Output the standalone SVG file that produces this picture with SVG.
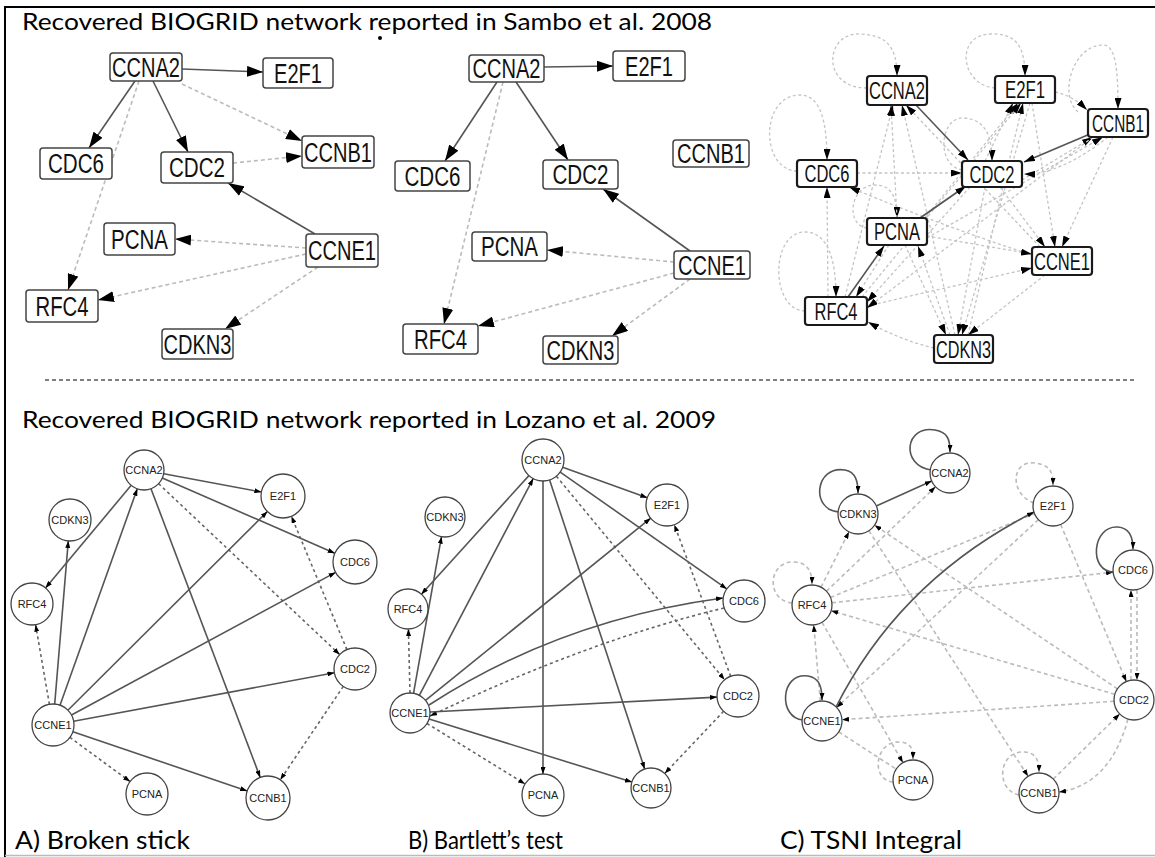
<svg xmlns="http://www.w3.org/2000/svg" width="1155" height="857" viewBox="0 0 1155 857">
<style>
.ns{fill:#fff;stroke:#444;stroke-width:1.5}
.nb{fill:#fff;stroke:#1a1a1a;stroke-width:2.2}
.nc{fill:#fff;stroke:#444;stroke-width:1.3}
.s{fill:none;stroke:#555;stroke-width:1.6}
.d{fill:none;stroke:#bbb;stroke-width:1.6;stroke-dasharray:4 3}
.dr{fill:none;stroke:#c4c4c4;stroke-width:1.3;stroke-dasharray:3 2.5}
.dd{fill:none;stroke:#666;stroke-width:1.6;stroke-dasharray:3 3}
.lt{font-family:"Liberation Sans",Arial,sans-serif;font-size:27px;text-anchor:middle;fill:#111}
.lr{font-family:"Liberation Sans",Arial,sans-serif;font-size:24px;text-anchor:middle;fill:#111}
.lc{font-family:"Liberation Sans",Arial,sans-serif;font-size:11px;text-anchor:middle;fill:#222}
.title{font-family:Lato,"Open Sans",sans-serif;font-size:23px;fill:#000}
.cap{font-family:Lato,"Open Sans",sans-serif;font-size:25px;fill:#000}
</style>
<defs>
<marker id="ah" viewBox="0 0 16 11" markerWidth="16" markerHeight="11" refX="16" refY="5.5" orient="auto" markerUnits="userSpaceOnUse"><path d="M0,0 L16,5.5 L0,11 z" fill="#000"/></marker>
<marker id="ah2" viewBox="0 0 11 7" markerWidth="11" markerHeight="7" refX="11" refY="3.5" orient="auto" markerUnits="userSpaceOnUse"><path d="M0,0 L11,3.5 L0,7 z" fill="#000"/></marker>
<marker id="as" viewBox="0 0 7 5" markerWidth="7" markerHeight="5" refX="7" refY="2.5" orient="auto" markerUnits="userSpaceOnUse"><path d="M0,0 L7,2.5 L0,5 z" fill="#000"/></marker>
</defs>
<rect x="0" y="0" width="1155" height="857" fill="#fff"/>
<g id="frame" fill="none">
<path d="M5,857 L5,7 L1155,7" stroke="#000" stroke-width="2"/>
<line x1="5" y1="855.5" x2="1155" y2="855.5" stroke="#bbb" stroke-width="1.5"/>
<line x1="45" y1="380" x2="1135" y2="380" stroke="#555" stroke-width="1.3" stroke-dasharray="4 3"/>
<circle cx="380" cy="38" r="2" fill="#000"/>
</g>
<g id="titles">
<text class="title" x="22" y="30" textLength="690" lengthAdjust="spacingAndGlyphs">Recovered BIOGRID network reported in Sambo et al. 2008</text>
<text class="title" x="22" y="428" textLength="694" lengthAdjust="spacingAndGlyphs">Recovered BIOGRID network reported in Lozano et al. 2009</text>
<text class="cap" x="15" y="849" textLength="175" lengthAdjust="spacingAndGlyphs">A) Broken stick</text>
<text class="cap" x="408" y="849" textLength="155" lengthAdjust="spacingAndGlyphs">B) Bartlett’s test</text>
<text class="cap" x="780" y="849" textLength="182" lengthAdjust="spacingAndGlyphs">C) TSNI Integral</text>
</g>

<g id="connectors">
<!-- top-left -->
<path class="s" d="M182,69 L263,72" marker-end="url(#ah)"/>
<path class="s" d="M135,81 L89,148" marker-end="url(#ah)"/>
<path class="s" d="M153,81 L188,152" marker-end="url(#ah)"/>
<path class="d" d="M182,84 L302,141" marker-end="url(#ah)"/>
<path class="d" d="M233,163 L302,156" marker-end="url(#ah)"/>
<path class="d" d="M139,81 L68,290" marker-end="url(#ah)"/>
<path class="s" d="M315,234 L228,183" marker-end="url(#ah)"/>
<path class="d" d="M306,248 L175,239" marker-end="url(#ah)"/>
<path class="d" d="M306,254 L98,300" marker-end="url(#ah)"/>
<path class="d" d="M318,267 L225,329" marker-end="url(#ah)"/>
<!-- top-middle -->
<path class="s" d="M544,67 L613,66" marker-end="url(#ah)"/>
<path class="s" d="M497,82 L445,161" marker-end="url(#ah)"/>
<path class="s" d="M516,82 L568,160" marker-end="url(#ah)"/>
<path class="d" d="M503,82 L444,324" marker-end="url(#ah)"/>
<path class="s" d="M690,251 L603,189" marker-end="url(#ah)"/>
<path class="d" d="M674,262 L547,250" marker-end="url(#ah)"/>
<path class="d" d="M674,273 L478,326" marker-end="url(#ah)"/>
<path class="d" d="M690,279 L612,336" marker-end="url(#ah)"/>
<!-- top-right dashed -->
<path class="dr" d="M867,88 C820,88 825,32 860,34 C885,35 897,45 897,76" marker-end="url(#ah2)"/>
<path class="dr" d="M995,88 C960,85 955,35 990,34 C1015,33 1025,45 1025,76" marker-end="url(#ah2)"/>
<path class="dr" d="M1078,112 C1058,95 1073,45 1103,45 C1116,45 1118,70 1118,109" marker-end="url(#ah2)"/>
<path class="dr" d="M797,171 C760,170 760,95 800,95 C820,95 827,120 827,160" marker-end="url(#ah2)"/>
<path class="dr" d="M805,311 C770,310 770,232 805,232 C828,232 836,260 836,297" marker-end="url(#ah2)"/>
<path class="dr" d="M867,228 C845,225 850,185 875,185 C890,185 897,195 897,218" marker-end="url(#ah2)"/>
<path class="dr" d="M962,170 C935,165 940,115 965,118 C985,120 992,135 992,161" marker-end="url(#ah2)"/>
<path class="dr" d="M857,173 L962,173" marker-end="url(#ah2)"/>
<path class="dr" d="M828,297 L827,187" marker-end="url(#ah2)"/>
<path class="dr" d="M1032,255 Q940,225 849,187" marker-end="url(#ah2)"/>
<path class="dr" d="M897,218 L891,105" marker-end="url(#ah2)"/>
<path class="dr" d="M845,297 L893,105" marker-end="url(#ah2)"/>
<path class="dr" d="M955,335 L902,105" marker-end="url(#ah2)"/>
<path class="dr" d="M1040,247 L906,105" marker-end="url(#ah2)"/>
<path class="dr" d="M985,161 L1013,103" marker-end="url(#ah2)"/>
<path class="dr" d="M925,218 L1018,103" marker-end="url(#ah2)"/>
<path class="dr" d="M862,297 L1021,103" marker-end="url(#ah2)"/>
<path class="dr" d="M968,335 L1023,103" marker-end="url(#ah2)"/>
<path class="dr" d="M1055,92 C1068,95 1077,100 1087,110" marker-end="url(#ah2)"/>
<path class="dr" d="M1022,180 L1093,137" marker-end="url(#ah2)"/>
<path class="dr" d="M927,238 L1103,137" marker-end="url(#ah2)"/>
<path class="dr" d="M1108,137 Q1060,175 1024,174" marker-end="url(#ah2)"/>
<path class="dr" d="M1000,187 L1045,247" marker-end="url(#ah2)"/>
<path class="dr" d="M1032,103 L1055,247" marker-end="url(#ah2)"/>
<path class="dr" d="M1113,137 L1062,247" marker-end="url(#ah2)"/>
<path class="dr" d="M927,236 L1032,254" marker-end="url(#ah2)"/>
<path class="dr" d="M867,306 L1032,268" marker-end="url(#ah2)"/>
<path class="dr" d="M905,245 L946,335" marker-end="url(#ah2)"/>
<path class="dr" d="M985,187 L958,335" marker-end="url(#ah2)"/>
<path class="dr" d="M1030,103 L962,335" marker-end="url(#ah2)"/>
<path class="dr" d="M1045,275 L968,335" marker-end="url(#ah2)"/>
<path class="dr" d="M970,187 L867,302" marker-end="url(#ah2)"/>
<path class="dr" d="M1093,137 L867,308" marker-end="url(#ah2)"/>
<path class="dr" d="M934,348 Q900,340 868,322" marker-end="url(#ah2)"/>
<path class="dr" d="M950,335 L918,246" marker-end="url(#ah2)"/>
<path class="dr" d="M889,245 L856,297" marker-end="url(#ah2)"/>
<!-- top-right solid -->
<path class="s" d="M916,105 L968,160" marker-end="url(#ah2)"/>
<path class="s" d="M1090,134 L1024,162" marker-end="url(#ah2)"/>
<path class="s" d="M920,218 L966,186" marker-end="url(#ah2)"/>
<path class="s" d="M848,297 L884,246" marker-end="url(#ah2)"/>
<!-- bottom-left -->
<path class="s" d="M163.7,473.7 L261.4,492" marker-end="url(#as)"/>
<path class="s" d="M162.3,478 L334.8,553.2" marker-end="url(#as)"/>
<path class="dd" d="M158.6,483.7 L339.7,654.6" marker-end="url(#as)"/>
<path class="s" d="M151,488.7 L260.2,777.4" marker-end="url(#as)"/>
<path class="s" d="M131.2,485.3 L45.5,587.9" marker-end="url(#as)"/>
<path class="s" d="M60,705.2 L137.3,488.8" marker-end="url(#as)"/>
<path class="s" d="M54.7,704.1 L68.3,540.9" marker-end="url(#as)"/>
<path class="dd" d="M49.4,704.3 L35.6,624.7" marker-end="url(#as)"/>
<path class="s" d="M67.9,710.2 L267.4,511.5" marker-end="url(#as)"/>
<path class="s" d="M71.5,715 L335.6,572.4" marker-end="url(#as)"/>
<path class="s" d="M73.6,721.2 L334.4,672.8" marker-end="url(#as)"/>
<path class="s" d="M72.9,731.8 L247.2,790.9" marker-end="url(#as)"/>
<path class="dd" d="M69.9,737.4 L130.1,781.6" marker-end="url(#as)"/>
<path class="dd" d="M346.9,649.6 L291.4,516.3" marker-end="url(#as)"/>
<path class="dd" d="M343.3,686.4 L280.3,779.8" marker-end="url(#as)"/>
<!-- bottom-middle -->
<path class="s" d="M562.7,467.2 L647.3,497.8" marker-end="url(#as)"/>
<path class="s" d="M560.2,472.1 L726.8,588.9" marker-end="url(#as)"/>
<path class="dd" d="M556.4,476.2 L724.6,679.8" marker-end="url(#as)"/>
<path class="s" d="M549.6,480 L644.7,769" marker-end="url(#as)"/>
<path class="s" d="M543,481 L543,774" marker-end="url(#as)"/>
<path class="s" d="M528.9,475.6 L421.4,594.2" marker-end="url(#as)"/>
<path class="s" d="M419.3,695.3 L533.2,478.6" marker-end="url(#as)"/>
<path class="s" d="M413.5,693.3 L441.5,536.7" marker-end="url(#as)"/>
<path class="dd" d="M410,693 L408.4,629" marker-end="url(#as)"/>
<path class="s" d="M425.5,700.4 L650.7,518.2" marker-end="url(#as)"/>
<path class="s" d="M429,705 Q560,620 723,598" marker-end="url(#as)"/>
<path class="dd" d="M724,608 Q590,640 430,716" marker-end="url(#as)"/>
<path class="s" d="M430,712 L717,697.1" marker-end="url(#as)"/>
<path class="s" d="M429.1,718.9 L631.9,782.1" marker-end="url(#as)"/>
<path class="dd" d="M427,723.5 L525.1,784" marker-end="url(#as)"/>
<path class="dd" d="M730.7,676.3 L674.3,524.7" marker-end="url(#as)"/>
<path class="dd" d="M723.6,711.3 L664.7,773.5" marker-end="url(#as)"/>
<!-- bottom-right dashed -->
<path class="d" d="M1034,503 C1010,495 1010,460 1035,463 C1050,465 1053,472 1053,485" marker-end="url(#as)"/>
<path class="d" d="M792,603 C765,600 768,560 795,562 C808,563 812,572 812,584" marker-end="url(#as)"/>
<path class="d" d="M893,782 C870,780 875,740 900,742 C912,743 913,750 913,759" marker-end="url(#as)"/>
<path class="d" d="M1019,795 C995,790 998,750 1025,752 C1037,753 1039,762 1039,772" marker-end="url(#as)"/>
<path class="d" d="M821,587.2 L849,531.8" marker-end="url(#as)"/>
<path class="d" d="M826.5,591.2 L935.5,486.8" marker-end="url(#as)"/>
<path class="d" d="M830.5,597.4 L1034.5,513.6"/>
<path class="d" d="M831.9,602.8 L1113.1,572.2" marker-end="url(#as)"/>
<path class="d" d="M1114.8,694.3 L831.2,610.7" marker-end="url(#as)"/>
<path class="d" d="M1114,701.3 L842,719.7" marker-end="url(#as)"/>
<path class="d" d="M1038.4,519.6 L836.6,707.4" marker-end="url(#as)"/>
<path class="d" d="M820.3,701.1 L813.7,624.9" marker-end="url(#as)"/>
<path class="d" d="M1060.7,524.5 L1126.3,681.5" marker-end="url(#as)"/>
<path class="d" d="M1131,680 L1131,590" marker-end="url(#as)"/>
<path class="d" d="M1137,590 L1137,680" marker-end="url(#as)"/>
<path class="d" d="M1117.4,688.8 L874.6,525.2" marker-end="url(#as)"/>
<path class="d" d="M868.9,530.8 L1028.1,776.2" marker-end="url(#as)"/>
<path class="d" d="M822,622.3 L903,762.7" marker-end="url(#as)"/>
<path class="d" d="M838.8,731.9 L896.2,769.1"/>
<path class="d" d="M1053.3,779 L1119.7,714" marker-end="url(#as)"/>
<path class="d" d="M1128,719 Q1110,785 1059,792" marker-end="url(#as)"/>
<!-- bottom-right solid -->
<path class="s" d="M931,470 C900,465 905,425 935,430 C948,432 950,440 950,452" marker-end="url(#as)"/>
<path class="s" d="M839,512 C810,510 815,465 845,470 C856,472 858,482 858,493" marker-end="url(#as)"/>
<path class="s" d="M1114,572 C1088,572 1092,525 1118,527 C1130,528 1133,538 1133,549" marker-end="url(#as)"/>
<path class="s" d="M803,720 C778,718 780,672 808,676 C820,678 822,688 822,700" marker-end="url(#as)"/>
<path class="s" d="M876.3,505.9 L931.7,481.1" marker-end="url(#as)"/>
<path class="s" d="M836,707 Q900,580 1034,512" marker-end="url(#as)"/>
</g>

<!-- top-left nodes -->
<g id="tl-CCNA2"><rect class="ns" x="110" y="53" width="72" height="28" rx="3"/><text class="lt" x="146" y="76.7" textLength="68" lengthAdjust="spacingAndGlyphs">CCNA2</text></g>
<g id="tl-E2F1"><rect class="ns" x="263" y="58" width="70" height="30" rx="3"/><text class="lt" x="298" y="82.7" textLength="48" lengthAdjust="spacingAndGlyphs">E2F1</text></g>
<g id="tl-CDC6"><rect class="ns" x="40" y="148" width="72" height="31" rx="3"/><text class="lt" x="76" y="173.2" textLength="56" lengthAdjust="spacingAndGlyphs">CDC6</text></g>
<g id="tl-CDC2"><rect class="ns" x="161" y="152" width="72" height="31" rx="3"/><text class="lt" x="197" y="177.2" textLength="56" lengthAdjust="spacingAndGlyphs">CDC2</text></g>
<g id="tl-CCNB1"><rect class="ns" x="302" y="136" width="72" height="32" rx="3"/><text class="lt" x="338" y="161.7" textLength="68" lengthAdjust="spacingAndGlyphs">CCNB1</text></g>
<g id="tl-PCNA"><rect class="ns" x="104" y="223" width="71" height="32" rx="3"/><text class="lt" x="139.5" y="248.7" textLength="57" lengthAdjust="spacingAndGlyphs">PCNA</text></g>
<g id="tl-CCNE1"><rect class="ns" x="306" y="234" width="72" height="33" rx="3"/><text class="lt" x="342" y="260.2" textLength="68" lengthAdjust="spacingAndGlyphs">CCNE1</text></g>
<g id="tl-RFC4"><rect class="ns" x="26" y="290" width="72" height="32" rx="3"/><text class="lt" x="62" y="315.7" textLength="53" lengthAdjust="spacingAndGlyphs">RFC4</text></g>
<g id="tl-CDKN3"><rect class="ns" x="162" y="329" width="71" height="30" rx="3"/><text class="lt" x="197.5" y="353.7" textLength="68" lengthAdjust="spacingAndGlyphs">CDKN3</text></g>

<!-- top-middle nodes -->
<g id="tm-CCNA2"><rect class="ns" x="469" y="55" width="75" height="27" rx="3"/><text class="lt" x="506.5" y="78.2" textLength="68" lengthAdjust="spacingAndGlyphs">CCNA2</text></g>
<g id="tm-E2F1"><rect class="ns" x="613" y="51" width="72" height="30" rx="3"/><text class="lt" x="649" y="75.7" textLength="48" lengthAdjust="spacingAndGlyphs">E2F1</text></g>
<g id="tm-CDC6"><rect class="ns" x="395" y="161" width="75" height="30" rx="3"/><text class="lt" x="432.5" y="185.7" textLength="56" lengthAdjust="spacingAndGlyphs">CDC6</text></g>
<g id="tm-CDC2"><rect class="ns" x="543" y="160" width="75" height="29" rx="3"/><text class="lt" x="580.5" y="184.2" textLength="56" lengthAdjust="spacingAndGlyphs">CDC2</text></g>
<g id="tm-CCNB1"><rect class="ns" x="673" y="140" width="76" height="27" rx="3"/><text class="lt" x="711" y="163.2" textLength="68" lengthAdjust="spacingAndGlyphs">CCNB1</text></g>
<g id="tm-PCNA"><rect class="ns" x="472" y="232" width="75" height="29" rx="3"/><text class="lt" x="509.5" y="256.2" textLength="57" lengthAdjust="spacingAndGlyphs">PCNA</text></g>
<g id="tm-CCNE1"><rect class="ns" x="674" y="251" width="76" height="28" rx="3"/><text class="lt" x="712" y="274.7" textLength="68" lengthAdjust="spacingAndGlyphs">CCNE1</text></g>
<g id="tm-RFC4"><rect class="ns" x="403" y="324" width="75" height="30" rx="3"/><text class="lt" x="440.5" y="348.7" textLength="53" lengthAdjust="spacingAndGlyphs">RFC4</text></g>
<g id="tm-CDKN3"><rect class="ns" x="543" y="336" width="75" height="28" rx="3"/><text class="lt" x="580.5" y="359.7" textLength="68" lengthAdjust="spacingAndGlyphs">CDKN3</text></g>

<!-- top-right nodes -->
<g id="tr-CCNA2"><rect class="nb" x="867" y="76" width="60" height="29" rx="3"/><text class="lr" x="897" y="99.1" textLength="56" lengthAdjust="spacingAndGlyphs">CCNA2</text></g>
<g id="tr-E2F1"><rect class="nb" x="995" y="76" width="60" height="27" rx="3"/><text class="lr" x="1025" y="98.1" textLength="40" lengthAdjust="spacingAndGlyphs">E2F1</text></g>
<g id="tr-CCNB1"><rect class="nb" x="1088" y="109" width="60" height="28" rx="3"/><text class="lr" transform="translate(1118,131.6) scale(0.64,1)" x="0" y="0">CCNB1</text></g>
<g id="tr-CDC6"><rect class="nb" x="797" y="160" width="60" height="27" rx="3"/><text class="lr" x="827" y="182.1" textLength="45" lengthAdjust="spacingAndGlyphs">CDC6</text></g>
<g id="tr-CDC2"><rect class="nb" x="962" y="161" width="60" height="26" rx="3"/><text class="lr" x="992" y="182.6" textLength="45" lengthAdjust="spacingAndGlyphs">CDC2</text></g>
<g id="tr-PCNA"><rect class="nb" x="867" y="218" width="60" height="27" rx="3"/><text class="lr" x="897" y="240.1" textLength="46" lengthAdjust="spacingAndGlyphs">PCNA</text></g>
<g id="tr-CCNE1"><rect class="nb" x="1032" y="247" width="60" height="28" rx="3"/><text class="lr" x="1062" y="269.6" textLength="56" lengthAdjust="spacingAndGlyphs">CCNE1</text></g>
<g id="tr-RFC4"><rect class="nb" x="805" y="297" width="62" height="28" rx="3"/><text class="lr" x="836" y="319.6" textLength="43" lengthAdjust="spacingAndGlyphs">RFC4</text></g>
<g id="tr-CDKN3"><rect class="nb" x="934" y="335" width="59" height="28" rx="3"/><text class="lr" x="963.5" y="357.6" textLength="55" lengthAdjust="spacingAndGlyphs">CDKN3</text></g>

<!-- bottom-left nodes -->
<g id="bl-CCNA2"><circle class="nc" cx="144" cy="470" r="20"/><text class="lc" x="144" y="474">CCNA2</text></g>
<g id="bl-E2F1"><circle class="nc" cx="283" cy="496" r="22"/><text class="lc" x="283" y="500">E2F1</text></g>
<g id="bl-CDKN3"><circle class="nc" cx="70" cy="520" r="21"/><text class="lc" x="70" y="524">CDKN3</text></g>
<g id="bl-CDC6"><circle class="nc" cx="355" cy="562" r="22"/><text class="lc" x="355" y="566">CDC6</text></g>
<g id="bl-RFC4"><circle class="nc" cx="32" cy="604" r="21"/><text class="lc" x="32" y="608">RFC4</text></g>
<g id="bl-CDC2"><circle class="nc" cx="355" cy="669" r="21"/><text class="lc" x="355" y="673">CDC2</text></g>
<g id="bl-CCNE1"><circle class="nc" cx="53" cy="725" r="21"/><text class="lc" x="53" y="729">CCNE1</text></g>
<g id="bl-PCNA"><circle class="nc" cx="147" cy="794" r="21"/><text class="lc" x="147" y="798">PCNA</text></g>
<g id="bl-CCNB1"><circle class="nc" cx="268" cy="798" r="22"/><text class="lc" x="268" y="802">CCNB1</text></g>

<!-- bottom-middle nodes -->
<g id="bm-CCNA2"><circle class="nc" cx="543" cy="460" r="21"/><text class="lc" x="543" y="464">CCNA2</text></g>
<g id="bm-E2F1"><circle class="nc" cx="667" cy="505" r="21"/><text class="lc" x="667" y="509">E2F1</text></g>
<g id="bm-CDKN3"><circle class="nc" cx="445" cy="517" r="20"/><text class="lc" x="445" y="521">CDKN3</text></g>
<g id="bm-CDC6"><circle class="nc" cx="744" cy="601" r="21"/><text class="lc" x="744" y="605">CDC6</text></g>
<g id="bm-RFC4"><circle class="nc" cx="408" cy="609" r="20"/><text class="lc" x="408" y="613">RFC4</text></g>
<g id="bm-CDC2"><circle class="nc" cx="738" cy="696" r="21"/><text class="lc" x="738" y="700">CDC2</text></g>
<g id="bm-CCNE1"><circle class="nc" cx="410" cy="713" r="20"/><text class="lc" x="410" y="717">CCNE1</text></g>
<g id="bm-PCNA"><circle class="nc" cx="543" cy="795" r="21"/><text class="lc" x="543" y="799">PCNA</text></g>
<g id="bm-CCNB1"><circle class="nc" cx="651" cy="788" r="20"/><text class="lc" x="651" y="792">CCNB1</text></g>

<!-- bottom-right nodes -->
<g id="br-CCNA2"><circle class="nc" cx="950" cy="473" r="20"/><text class="lc" x="950" y="477">CCNA2</text></g>
<g id="br-CDKN3"><circle class="nc" cx="858" cy="514" r="20"/><text class="lc" x="858" y="518">CDKN3</text></g>
<g id="br-E2F1"><circle class="nc" cx="1053" cy="506" r="20"/><text class="lc" x="1053" y="510">E2F1</text></g>
<g id="br-CDC6"><circle class="nc" cx="1133" cy="570" r="20"/><text class="lc" x="1133" y="574">CDC6</text></g>
<g id="br-RFC4"><circle class="nc" cx="812" cy="605" r="20"/><text class="lc" x="812" y="609">RFC4</text></g>
<g id="br-CDC2"><circle class="nc" cx="1134" cy="700" r="20"/><text class="lc" x="1134" y="704">CDC2</text></g>
<g id="br-CCNE1"><circle class="nc" cx="822" cy="721" r="20"/><text class="lc" x="822" y="725">CCNE1</text></g>
<g id="br-PCNA"><circle class="nc" cx="913" cy="780" r="20"/><text class="lc" x="913" y="784">PCNA</text></g>
<g id="br-CCNB1"><circle class="nc" cx="1039" cy="793" r="20"/><text class="lc" x="1039" y="797">CCNB1</text></g>
</svg>
